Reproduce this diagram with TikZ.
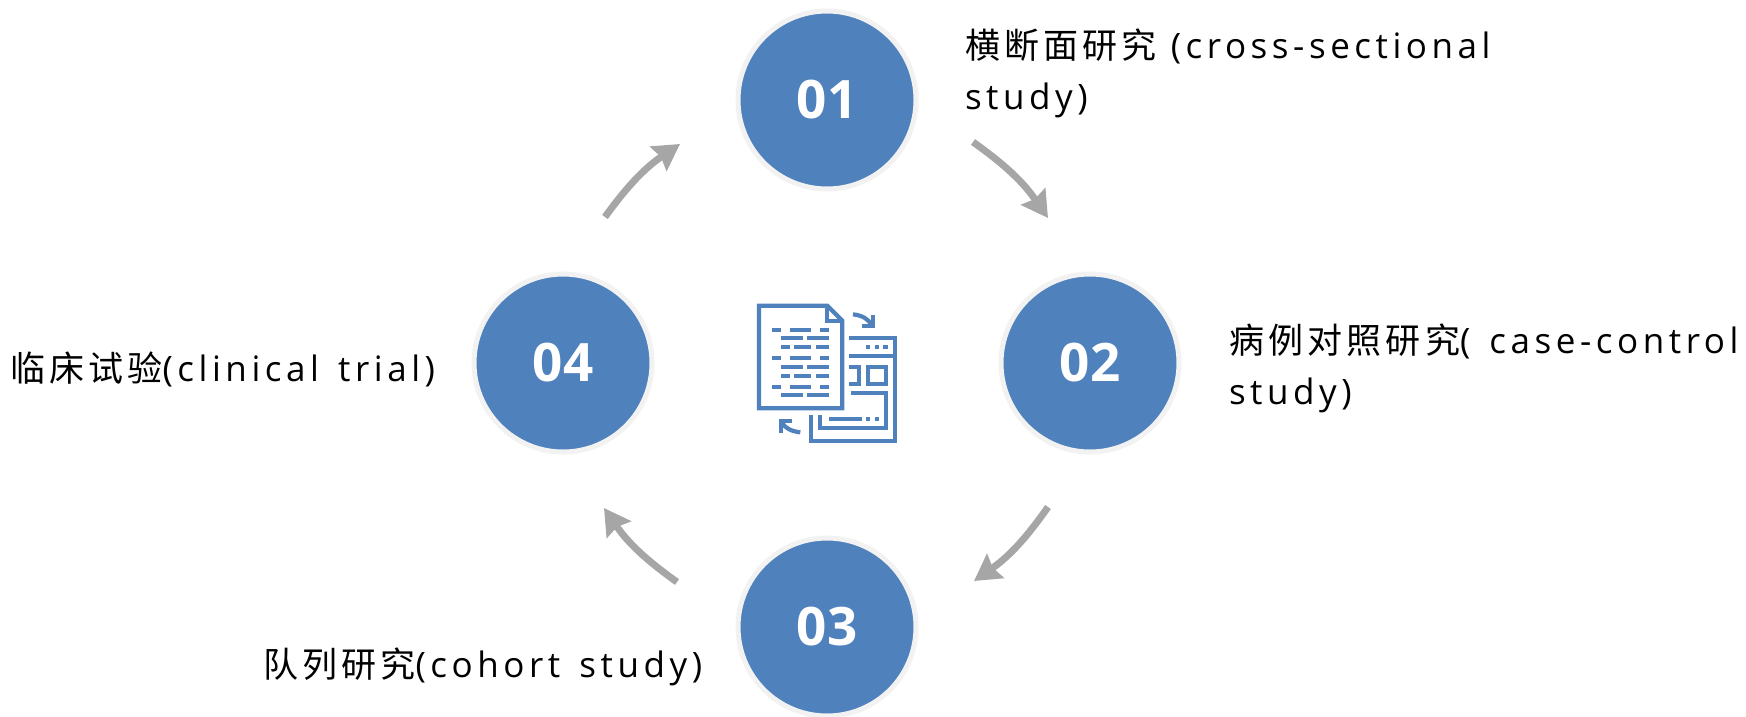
\documentclass[tikz,border=0pt]{standalone}
\usepackage{fontspec}
\setmainfont{Open Sans}
\newfontfamily\cjkf[LetterSpace=12]{Noto Sans CJK SC}
\newfontfamily\latf[LetterSpace=13,WordSpace=1.4]{Open Sans}
\newfontfamily\numf{Open Sans}
\usetikzlibrary{arrows.meta}
\definecolor{blu}{HTML}{4F81BD}
\definecolor{rng}{HTML}{F2F2F2}
\definecolor{gry}{HTML}{A6A6A6}
\tikzset{
  numcircle/.style={circle,draw=rng,line width=5pt,fill=blu,minimum size=178pt,inner sep=0pt,text=white,font=\numf\fontsize{53}{53}\selectfont\bfseries},
  cyc/.style={draw=gry,line width=7pt,-{Stealth[length=26pt,width=29pt,inset=3pt]},shorten >=0pt},
  lab/.style={anchor=base west,inner sep=0pt,outer sep=0pt,font=\fontsize{35}{35}\selectfont,text=black},
  ico/.style={draw=blu,line width=4.2pt,line cap=butt,line join=miter},
  icod/.style={fill=blu,draw=none}
}
\begin{document}
\begin{tikzpicture}[x=1pt,y=-1pt]
\useasboundingbox (0,0) rectangle (1746,716);
\node[numcircle] (n1) at (827,100) {\raisebox{2pt}{01}};
\node[numcircle] (n2) at (1090,363) {\raisebox{2pt}{02}};
\node[numcircle] (n3) at (827,627) {\raisebox{2pt}{03}};
\node[numcircle] (n4) at (563,363) {\raisebox{2pt}{04}};

\coordinate (a1s) at (973,142); \coordinate (a1e) at (1048,218);
\coordinate (a2s) at (1048,507); \coordinate (a2e) at (974,581);
\coordinate (a3s) at (677,582); \coordinate (a3e) at (604,508);
\coordinate (a4s) at (605,217); \coordinate (a4e) at (680,144);
\draw[cyc] (a1s) to[bend left=10] (a1e);
\draw[cyc] (a2s) to[bend left=10] (a2e);
\draw[cyc] (a3s) to[bend left=10] (a3e);
\draw[cyc] (a4s) to[bend left=10] (a4e);

\node[lab] (t1a) at (965,58) {{\cjkf 横断面研究}\hspace{14pt}{\latf (cross-sectional}};
\node[lab] (t1b) at (965,109) {\latf study)};
\node[lab] (t2a) at (1229,353) {{\cjkf 病例对照研究}{\latf ( case-control}};
\node[lab] (t2b) at (1229,404) {\latf study)};
\node[lab] (t3) at (263,677) {{\cjkf 队列研究}{\latf (cohort study)}};
\node[lab] (t4) at (10,381) {{\cjkf 临床试验}{\latf (clinical trial)}};

\begin{scope}[shift={(750,290)},x=0.3333pt,y=-0.3333pt]
  \draw[ico] (27,47) -- (232,47) -- (277,92) -- (277,355) -- (27,355) -- cycle;
  \draw[ico] (230,47) -- (230,92) -- (277,92);
  \foreach \yy/\dashlist in {113/{67/93,119/184,211/237},139/{93/158,171/237},165/{93/119,132/184,198/237},198/{67/93,119/184,211/237},224/{93/158,171/237},251/{93/119,132/184,198/237},284/{67/93,119/184,211/237},310/{93/158,171/237}}{
    \foreach \xa/\xb in \dashlist{
      \fill[icod] (\xa,\yy) rectangle (\xb,\yy+12);
    }
  }
  \draw[ico] (297,145) -- (434,145) -- (434,454) -- (184,454) -- (184,375);
  \draw[ico] (297,198) -- (434,198);
  \foreach \xa in {348,374,400}{\fill[icod] (\xa,165) rectangle (\xa+13,178);}
  \draw[ico] (354,230) rectangle (407,283);
  \draw[ico] (297,230) -- (328,230) -- (328,283) -- (297,283);
  \draw[ico] (302,309) -- (407,309) -- (407,414) -- (211,414) -- (211,375);
  \fill[icod] (237,382) rectangle (335,394);
  \foreach \xa in {348,374}{\fill[icod] (\xa,382) rectangle (\xa+13,394);}
  \draw[ico] (309,73) .. controls (335,76) and (355,85) .. (365,107);
  \draw[ico] (368,75) -- (368,107) -- (335,107);
  \draw[ico] (151,427) .. controls (125,424) and (105,415) .. (95,397);
  \draw[ico] (92,428) -- (92,394) -- (125,394);
\end{scope}
\end{tikzpicture}
\end{document}
